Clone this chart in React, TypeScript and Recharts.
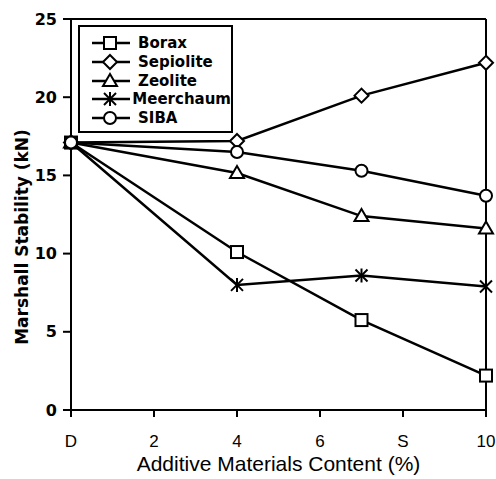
import React from "react";
import { LineChart, Line, XAxis, YAxis, ReferenceLine } from "recharts";

const xValues = [0, 4, 7, 10];
const borax = [17.1, 10.1, 5.75, 2.2];
const sepiolite = [17.1, 17.2, 20.1, 22.2];
const zeolite = [17.1, 15.15, 12.4, 11.6];
const meerchaum = [17.1, 8.0, 8.6, 7.9];
const siba = [17.1, 16.5, 15.3, 13.7];

const xTicks = [0, 2, 4, 6, 8, 10];
const xTickLabels = ["D", "2", "4", "6", "S", "10"];
const yTicks = [0, 5, 10, 15, 20, 25];

const seriesList = [
  { key: "borax", name: "Borax", marker: "square" },
  { key: "sepiolite", name: "Sepiolite", marker: "diamond" },
  { key: "zeolite", name: "Zeolite", marker: "triangle" },
  { key: "meerchaum", name: "Meerchaum", marker: "star" },
  { key: "siba", name: "SIBA", marker: "circle" },
];

const data = xValues.map((x, i) => ({
  x,
  borax: borax[i],
  sepiolite: sepiolite[i],
  zeolite: zeolite[i],
  meerchaum: meerchaum[i],
  siba: siba[i],
}));

const BOLD_FONT = "'DejaVu Sans', sans-serif";
const PLAIN_FONT = "'Liberation Sans', Arial, sans-serif";

function Marker({ kind, cx, cy }: { kind: string; cx: number; cy: number }) {
  const common = { fill: "#fff", stroke: "#000", strokeWidth: 2 };
  if (kind === "square") return <rect x={cx - 6} y={cy - 6} width={12} height={12} {...common} />;
  if (kind === "diamond")
    return <polygon points={`${cx},${cy - 7} ${cx + 7},${cy} ${cx},${cy + 7} ${cx - 7},${cy}`} {...common} />;
  if (kind === "triangle")
    return <polygon points={`${cx},${cy - 7} ${cx + 7},${cy + 5} ${cx - 7},${cy + 5}`} {...common} />;
  if (kind === "circle") return <circle cx={cx} cy={cy} r={6} {...common} />;
  return (
    <g stroke="#000" strokeWidth={2}>
      <line x1={cx - 6} y1={cy - 6} x2={cx + 6} y2={cy + 6} />
      <line x1={cx - 6} y1={cy + 6} x2={cx + 6} y2={cy - 6} />
      <line x1={cx} y1={cy - 7} x2={cx} y2={cy + 7} />
    </g>
  );
}

function LegendBox() {
  return (
    <div
      style={{
        position: "absolute",
        left: 78,
        top: 25,
        width: 155,
        height: 108,
        border: "2px solid #000",
        boxSizing: "border-box",
        background: "#fff",
        paddingTop: 7,
      }}
    >
      {seriesList.map((s) => (
        <div key={s.key} style={{ display: "flex", alignItems: "center", height: 18.7 }}>
          <svg width={46} height={18} style={{ marginLeft: 10 }}>
            <line x1={2} y1={9} x2={40} y2={9} stroke="#000" strokeWidth={2.5} />
            <Marker kind={s.marker} cx={20} cy={9} />
          </svg>
          <span
            style={{
              fontFamily: BOLD_FONT,
              fontWeight: "bold",
              fontSize: 15,
              color: "#000",
              marginLeft: 2,
            }}
          >
            {s.name}
          </span>
        </div>
      ))}
    </div>
  );
}

export default function App() {
  return (
    <div style={{ position: "absolute", left: 0, top: 0, width: 496, height: 479, background: "#fff" }}>
      <LineChart width={496} height={479} data={data} margin={{ top: 19, right: 10, bottom: 0, left: 0 }}>
        <XAxis
          type="number"
          dataKey="x"
          domain={[0, 10]}
          ticks={xTicks}
          tickFormatter={(v) => xTickLabels[xTicks.indexOf(v)]}
          height={69}
          tickSize={7}
          tickMargin={18}
          axisLine={{ stroke: "#000", strokeWidth: 2 }}
          tickLine={{ stroke: "#000", strokeWidth: 2 }}
          tick={{ fill: "#000", fontSize: 17, fontFamily: PLAIN_FONT }}
          label={{
            value: "Additive Materials Content (%)",
            position: "insideBottom",
            offset: 8,
            fill: "#000",
            fontSize: 21,
            fontFamily: PLAIN_FONT,
          }}
        />
        <YAxis
          type="number"
          domain={[0, 25]}
          ticks={yTicks}
          width={71}
          tickSize={8}
          tickMargin={6}
          axisLine={{ stroke: "#000", strokeWidth: 2 }}
          tickLine={{ stroke: "#000", strokeWidth: 2 }}
          tick={{ fill: "#000", fontSize: 16, fontWeight: "bold", fontFamily: BOLD_FONT }}
          label={{
            content: () => (
              <text
                transform="translate(23, 237) rotate(-90)"
                textAnchor="middle"
                dominantBaseline="middle"
                fontFamily={BOLD_FONT}
                fontWeight="bold"
                fontSize={17}
                fill="#000"
              >
                Marshall Stability (kN)
              </text>
            ),
          }}
        />
        <ReferenceLine y={25} stroke="#000" strokeWidth={2} />
        <ReferenceLine x={10} stroke="#000" strokeWidth={2} />
        {seriesList.map((s) => (
          <Line
            key={s.key}
            dataKey={s.key}
            name={s.name}
            stroke="#000"
            strokeWidth={2.5}
            isAnimationActive={false}
            dot={(p: any) => <Marker key={`${s.key}-${p.index}`} kind={s.marker} cx={p.cx} cy={p.cy} />}
          />
        ))}
      </LineChart>
      <LegendBox />
    </div>
  );
}
